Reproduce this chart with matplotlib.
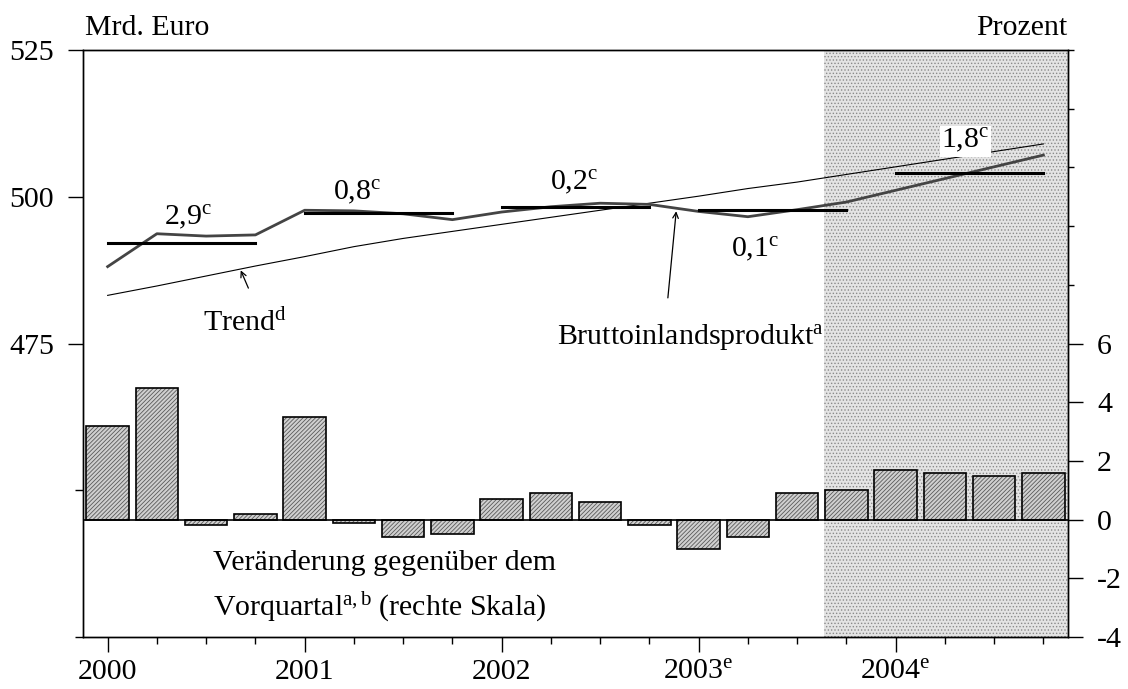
import matplotlib
matplotlib.use('Agg')
import matplotlib.pyplot as plt
import numpy as np

plt.rcParams['font.family'] = ['Liberation Serif', 'DejaVu Serif']
plt.rcParams['mathtext.fontset'] = 'custom'
plt.rcParams['mathtext.rm'] = 'Liberation Serif'
plt.rcParams['mathtext.it'] = 'Liberation Serif:italic'
plt.rcParams['hatch.linewidth'] = 0.6

# Quartale 2000Q1 .. 2004Q4
quartale = np.arange(20)
bip = [488.1, 493.7, 493.3, 493.5, 497.7, 497.6, 497.1, 496.1,
       497.4, 498.3, 498.9, 498.7, 497.5, 496.6, 497.8, 499.1,
       501.1, 503.1, 505.1, 507.1]
trend = [483.2, 484.8, 486.5, 488.2, 489.8, 491.5, 492.9, 494.1,
         495.3, 496.5, 497.7, 498.9, 500.1, 501.4, 502.5, 503.8,
         505.1, 506.4, 507.7, 509.0]
veraenderung = [3.2, 4.5, -0.2, 0.2, 3.5, -0.1, -0.6, -0.5,
                0.7, 0.9, 0.6, -0.2, -1.0, -0.6, 0.9, 1.0,
                1.7, 1.6, 1.5, 1.6]
jahresmittel = [492.2, 497.2, 498.2, 497.8, 504.1]
jahresraten = ['2,9', '0,8', '0,2', '0,1', '1,8']
jahre = ['2000', '2001', '2002', '2003$^{\\rm e}$', '2004$^{\\rm e}$']
prognose_ab = 14.55

fig = plt.figure(figsize=(11.28, 6.89), dpi=100)
ax = fig.add_axes([0.0736, 0.0755, 0.8732, 0.8519])
ax2 = ax.twinx()

ax.set_xlim(-0.5, 19.5)
ax.set_ylim(425, 525)
ax2.set_ylim(-4, 16)

# Prognosezeitraum
ax.axvspan(prognose_ab, 19.5, facecolor='#e4e4e4', edgecolor='#8a8a8a',
           hatch='.....', lw=0, zorder=0)

# Balken (rechte Skala)
ax2.bar(quartale, veraenderung, width=0.86, color='#d0d0d0', edgecolor='#5a5a5a',
        hatch='////////', lw=0, zorder=2)
ax2.bar(quartale, veraenderung, width=0.86, fill=False, edgecolor='black',
        lw=1.2, zorder=3)
ax2.axhline(0, color='black', lw=1.2, zorder=4)

# Linien (linke Skala)
ax.plot(quartale, trend, color='black', lw=0.8, zorder=3)
ax.plot(quartale, bip, color='#444444', lw=2.0, zorder=4)
for i, m in enumerate(jahresmittel):
    ax.plot([4 * i, 4 * i + 3], [m, m], color='black', lw=2.2, zorder=5)

fs = 21.5
# Jahresraten
rate_pos = [(1.64, 495.1), (5.06, 499.4), (9.48, 501.1), (13.14, 489.7), (17.42, 508.2)]
for (x, y), r in zip(rate_pos, jahresraten):
    kw = {}
    if r == '1,8':
        kw['bbox'] = dict(facecolor='white', edgecolor='none', pad=1)
    ax.text(x, y, r + '$^{\\rm c}$', fontsize=fs, ha='center', va='baseline',
            zorder=6, **kw)

ax.annotate('', xy=(2.68, 487.9), xytext=(2.88, 484.0),
            arrowprops=dict(arrowstyle='->', color='black', lw=0.9))
ax.text(1.93, 477.2, 'Trend$^{\\rm d}$', fontsize=fs, ha='left', va='baseline')
ax.annotate('', xy=(11.55, 498.0), xytext=(11.37, 482.3),
            arrowprops=dict(arrowstyle='->', color='black', lw=0.9))
ax.text(9.12, 475.0, 'Bruttoinlandsprodukt$^{\\rm a}$', fontsize=fs,
        ha='left', va='baseline')
ax2.text(2.13, -1.71, 'Veränderung gegenüber dem', fontsize=fs,
         ha='left', va='baseline')
ax2.text(2.13, -3.28, 'Vorquartal$^{\\rm a,b}$ (rechte Skala)', fontsize=fs,
         ha='left', va='baseline')

ax.text(0.002, 1.026, 'Mrd. Euro', transform=ax.transAxes, fontsize=fs,
        ha='left', va='baseline')
ax.text(0.999, 1.026, 'Prozent', transform=ax.transAxes, fontsize=fs,
        ha='right', va='baseline')

# Achsen
ax.set_xticks([0, 4, 8, 12, 16])
ax.set_xticklabels(jahre)
ax.set_xticks(quartale, minor=True)
ax.set_yticks([475, 500, 525])
ax.set_yticks([425, 450], minor=True)
ax2.set_yticks([-4, -2, 0, 2, 4, 6])
ax2.set_yticklabels(['-4', '-2', '0', '2', '4', '6'])
ax2.set_yticks([8, 10, 12, 14, 16], minor=True)

ax.tick_params(axis='x', which='major', length=11, width=1, pad=5, labelsize=fs)
ax.tick_params(axis='x', which='minor', length=5, width=1)
ax.tick_params(axis='y', which='major', length=11, width=1, pad=10, labelsize=fs)
ax.tick_params(axis='y', which='minor', length=6, width=1)
ax2.tick_params(axis='y', which='major', length=11, width=1, pad=10, labelsize=fs)
ax2.tick_params(axis='y', which='minor', length=4, width=1)

for a in (ax, ax2):
    for s in a.spines.values():
        s.set_linewidth(1.0)

fig.savefig('out.png', dpi=100)
